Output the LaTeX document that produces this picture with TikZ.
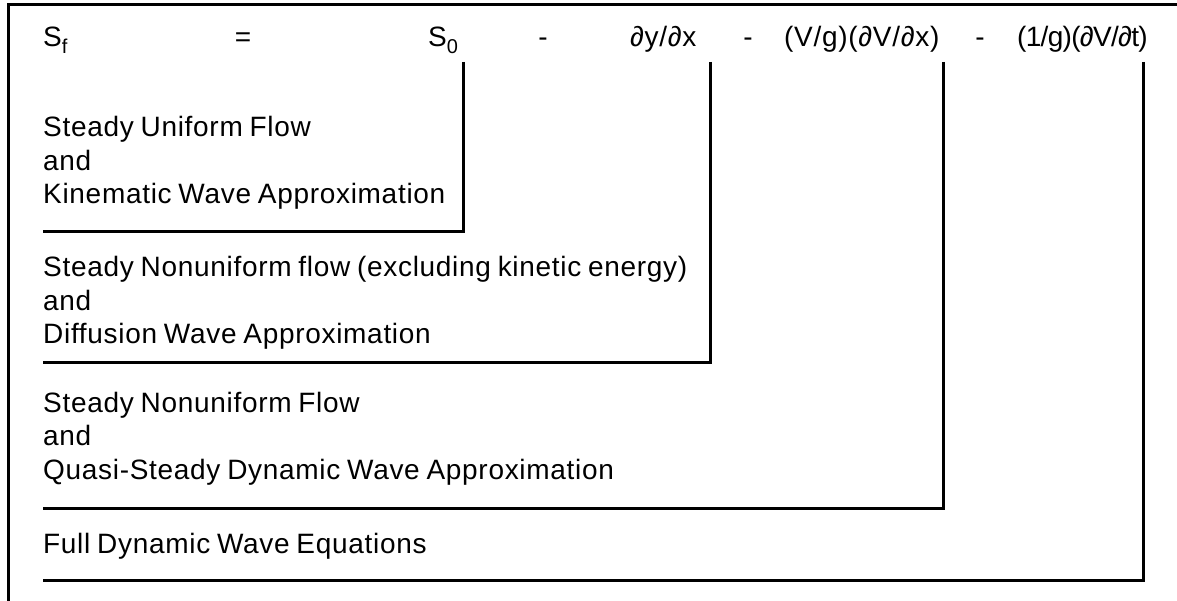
\documentclass[tikz,border=0pt]{standalone}
\usepackage{fontspec}
\setmainfont{Liberation Sans}[LetterSpace=2.5,WordSpace=0.8]
\newfontfamily\eqfont{Liberation Sans}[LetterSpace=-2.5]
\newcommand\lowsub[1]{\raisebox{-0.22em}{\fontsize{20}{20}\selectfont #1}}
\begin{document}
\begin{tikzpicture}[x=1pt,y=-1pt,
  txt/.style={anchor=base west, inner sep=0pt, font=\fontsize{28}{33}\selectfont},
  eqtxt/.style={anchor=base west, inner sep=0pt, font=\eqfont\fontsize{28}{33}\selectfont},
  eq/.style={anchor=base, inner sep=0pt, font=\fontsize{28}{33}\selectfont},
  frameline/.style={line width=3pt, black},
  bracket/.style={line width=3pt, black, line join=miter}]
\useasboundingbox (0,0) rectangle (1177,601);
% outer frame
\coordinate (ftl) at (8,5);
\coordinate (ftr) at (1177,5);
\coordinate (fbl) at (8,601);
\draw[frameline] (ftr) -- (ftl) -- (fbl);
% equation row
\node[txt] (sf) at (43,47) {S\lowsub{f}};
\node[eq] (eqs) at (243,47) {=};
\node[txt] (s0) at (428,47) {S\lowsub{0}};
\node[eq] (m1) at (543,47) {-};
\node[txt] (dydx) at (630,47) {∂y/∂x};
\node[eq] (m2) at (748,47) {-};
\node[txt] (conv) at (784,47) {(V/g)(∂V/∂x)};
\node[eq] (m3) at (980,47) {-};
\node[eqtxt] (local) at (1017,47) {(1/g)(∂V/∂t)};
% block 1
\node[txt] (b1a) at (43,137) {Steady Uniform Flow};
\node[txt] (b1b) at (43,170.5) {and};
\node[txt] (b1c) at (43,204) {Kinematic Wave Approximation};
% block 2
\node[txt] (b2a) at (43,277) {Steady Nonuniform flow (excluding kinetic energy)};
\node[txt] (b2b) at (43,310.5) {and};
\node[txt] (b2c) at (43,344) {Diffusion Wave Approximation};
% block 3
\node[txt] (b3a) at (43,412) {Steady Nonuniform Flow};
\node[txt] (b3b) at (43,445.5) {and};
\node[txt] (b3c) at (43,479) {Quasi-Steady Dynamic Wave Approximation};
% block 4
\node[txt] (b4a) at (43,553) {Full Dynamic Wave Equations};
% brackets
\coordinate (v1t) at (463,62); \coordinate (v1b) at (463,232); \coordinate (h1l) at (43,232);
\coordinate (v2t) at (710,62); \coordinate (v2b) at (710,362); \coordinate (h2l) at (43,362);
\coordinate (v3t) at (943,62); \coordinate (v3b) at (943,508); \coordinate (h3l) at (43,508);
\coordinate (v4t) at (1143,62); \coordinate (v4b) at (1143,580); \coordinate (h4l) at (43,580);
\draw[bracket] (v1t) -- (v1b) -- (h1l);
\draw[bracket] (v2t) -- (v2b) -- (h2l);
\draw[bracket] (v3t) -- (v3b) -- (h3l);
\draw[bracket] (v4t) -- (v4b) -- (h4l);
\end{tikzpicture}
\end{document}
